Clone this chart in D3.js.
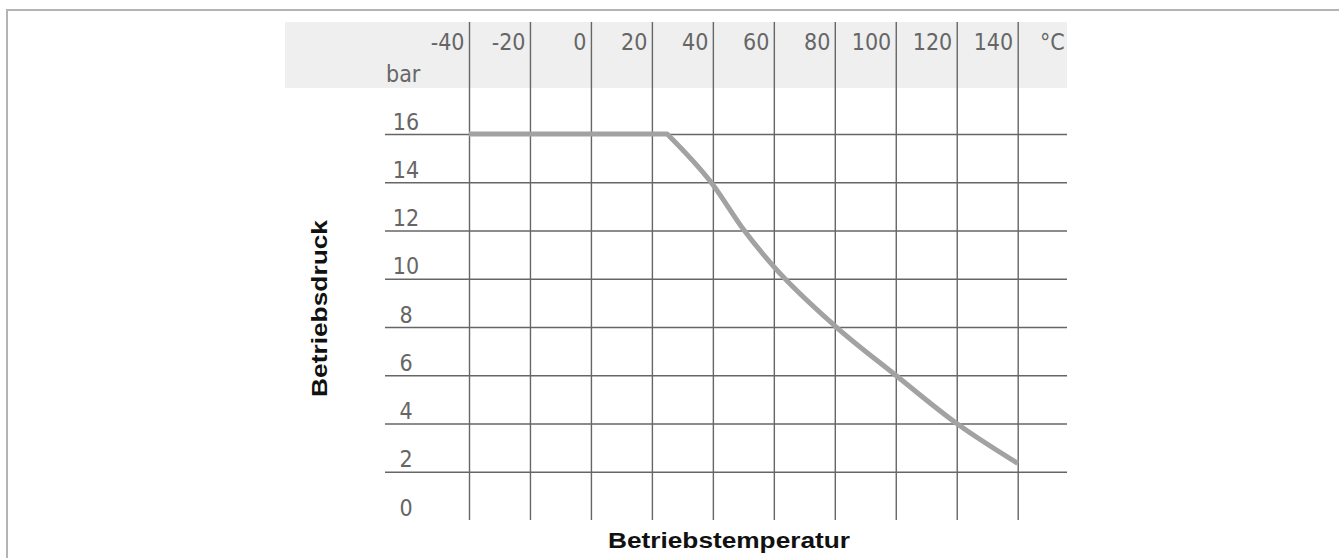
<!DOCTYPE html>
<html>
<head>
<meta charset="utf-8">
<script src="https://cdn.jsdelivr.net/npm/d3@7"></script>
<style>
  html, body { margin: 0; padding: 0; background: #fff; }
  svg { display: block; }
</style>
</head>
<body>
<svg id="chart" width="1339" height="558"></svg>
<script>
// Pressure / temperature rating curve
const temperatureTicks = [-40, -20, 0, 20, 40, 60, 80, 100, 120, 140];
const pressureTicks = [0, 2, 4, 6, 8, 10, 12, 14, 16];
const curveTemps = [-40, 25, 40, 50, 60, 80, 100, 120, 140];
const curvePressures = [16, 16, 13.9, 12.05, 10.5, 8.05, 6.0, 4.0, 2.35];

const svg = d3.select("#chart");

const x = d3.scaleLinear().domain([-40, 140]).range([469, 1017.7]);
const y = d3.scaleLinear().domain([0, 16]).range([520, 134]);

const gridTop = 22, gridBottom = 520, gridLeft = 385, gridRight = 1067;
const tickFont = "'Liberation Sans Narrow', 'DejaVu Sans Condensed', 'Arial Narrow', sans-serif";
const titleFont = "'Liberation Sans', Arial, Helvetica, sans-serif";
const plainNumber = d => String(d);

// outer frame (top and left edges)
svg.append("path")
  .attr("d", "M7,558 L7,10 L1339,10")
  .attr("fill", "none")
  .attr("stroke", "#b4b4b4")
  .attr("stroke-width", 2);

// header band behind the temperature labels
svg.append("rect")
  .attr("x", 285).attr("y", gridTop)
  .attr("width", gridRight - 285).attr("height", 88 - gridTop)
  .attr("fill", "#efefef");

// vertical grid + temperature labels
const xAxis = d3.axisBottom(x)
  .tickValues(temperatureTicks)
  .tickSize(-(gridBottom - gridTop))
  .tickFormat(plainNumber);

const gx = svg.append("g")
  .attr("transform", `translate(0,${gridBottom})`)
  .call(xAxis);
gx.select(".domain").remove();
gx.selectAll(".tick line")
  .attr("stroke", "#666")
  .attr("stroke-width", 1.4);
gx.selectAll(".tick text")
  .attr("y", -(gridBottom - 50))
  .attr("dy", 0)
  .attr("x", -5)
  .attr("text-anchor", "end")
  .attr("fill", "#666")
  .attr("font-family", tickFont)
  .attr("font-size", 23);

// horizontal grid + pressure labels
const yAxis = d3.axisLeft(y)
  .tickValues(pressureTicks)
  .tickSize(-(gridRight - gridLeft))
  .tickFormat(plainNumber);

const gy = svg.append("g")
  .attr("transform", `translate(${gridLeft},0)`)
  .call(yAxis);
gy.select(".domain").remove();
gy.selectAll(".tick line")
  .attr("stroke", d => d === 0 ? "none" : "#666")
  .attr("stroke-width", 1.4);
gy.selectAll(".tick text")
  .attr("x", 21)
  .attr("dy", -5)
  .attr("text-anchor", "middle")
  .attr("fill", "#666")
  .attr("font-family", tickFont)
  .attr("font-size", 23);

// unit labels
svg.append("text")
  .attr("x", 1040).attr("y", 50)
  .attr("fill", "#666")
  .attr("font-family", tickFont)
  .attr("font-size", 23)
  .text("°C");

svg.append("text")
  .attr("x", 386).attr("y", 82)
  .attr("fill", "#666")
  .attr("font-family", tickFont)
  .attr("font-size", 23)
  .text("bar");

// rating curve: flat plateau, then a smooth decline from the knee
const pts = curveTemps.map((t, i) => [t, curvePressures[i]]);
const plateau = pts.slice(0, 2);
const decline = pts.slice(1);

const straight = d3.line().x(d => x(d[0])).y(d => y(d[1])).curve(d3.curveLinear);
const smooth = d3.line().x(d => x(d[0])).y(d => y(d[1])).curve(d3.curveMonotoneX);

svg.append("path")
  .attr("d", straight(plateau) + smooth(decline).replace(/^M[^A-Za-z]*/, ""))
  .attr("fill", "none")
  .attr("stroke", "#a2a2a2")
  .attr("stroke-width", 5)
  .attr("stroke-linejoin", "round");

// axis titles
svg.append("text")
  .attr("x", 729).attr("y", 548)
  .attr("text-anchor", "middle")
  .attr("font-family", titleFont)
  .attr("font-weight", "bold")
  .attr("font-size", 22)
  .attr("fill", "#111")
  .attr("textLength", 242)
  .attr("lengthAdjust", "spacingAndGlyphs")
  .text("Betriebstemperatur");

svg.append("text")
  .attr("transform", "translate(327,308.5) rotate(-90)")
  .attr("text-anchor", "middle")
  .attr("font-family", titleFont)
  .attr("font-weight", "bold")
  .attr("font-size", 22)
  .attr("fill", "#111")
  .attr("textLength", 177)
  .attr("lengthAdjust", "spacingAndGlyphs")
  .text("Betriebsdruck");
</script>
</body>
</html>
